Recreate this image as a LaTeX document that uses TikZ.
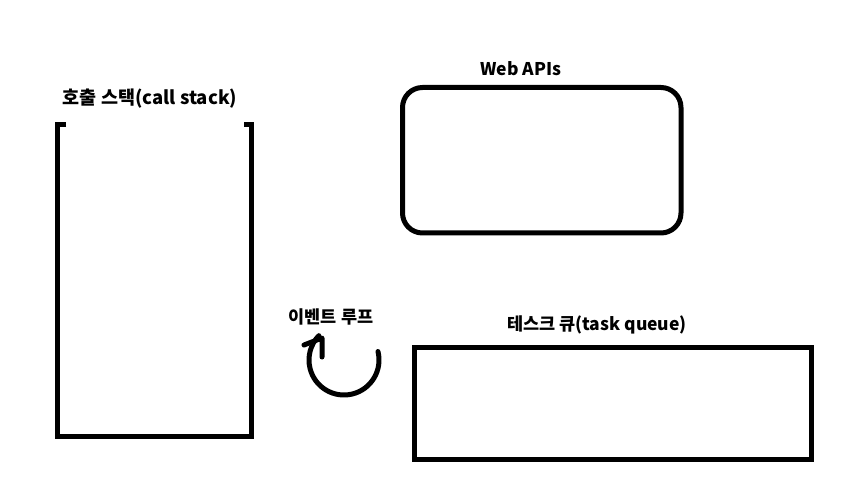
\documentclass[tikz,border=0pt]{standalone}
\usepackage{fontspec}
\usetikzlibrary{calc}
\setmainfont{Noto Sans CJK KR}
\begin{document}
\begin{tikzpicture}[x=1pt,y=-1pt,
  thick line/.style={line width=5pt},
  lbl/.style={font=\fontsize{17.5}{20}\selectfont\bfseries, inner sep=0pt},
  box/.style={thick line, draw, inner sep=0pt}]
\useasboundingbox (0,0) rectangle (861,502);
% call stack
\coordinate (csTL) at (57.5,124.5);
\coordinate (csTR) at (251,124.5);
\draw[thick line, line join=miter] (66,124.5) -- (csTL) -- (57.5,436.5) -- (251,436.5) -- (csTR) -- (244,124.5);
\node[lbl, font=\fontsize{18.5}{20}\selectfont\bfseries] (cslbl) at (150,99) {호출 스택(call stack)};
% Web APIs
\node[box, rounded corners=20pt, minimum width=278.5pt, minimum height=145.5pt] (web) at (541.75,160.25) {};
\node[lbl] (weblbl) at (521,69) {Web APIs};
% task queue
\node[box, minimum width=397pt, minimum height=111.5pt] (queue) at (613,403.25) {};
\node[lbl] (qlbl) at (597,325) {테스크 큐(task queue)};
% event loop
\node[lbl] (looplbl) at (331,317) {이벤트 루프};
\coordinate (lc) at (344,360);
\draw[thick line, line cap=round] ($(lc)+(-14:35)$) arc[start angle=-14, end angle=224, radius=35];
\coordinate (tip) at (322,338);
\draw[thick line, line cap=round, line join=round] (304,345) -- (tip) -- (322,357);
\end{tikzpicture}
\end{document}
